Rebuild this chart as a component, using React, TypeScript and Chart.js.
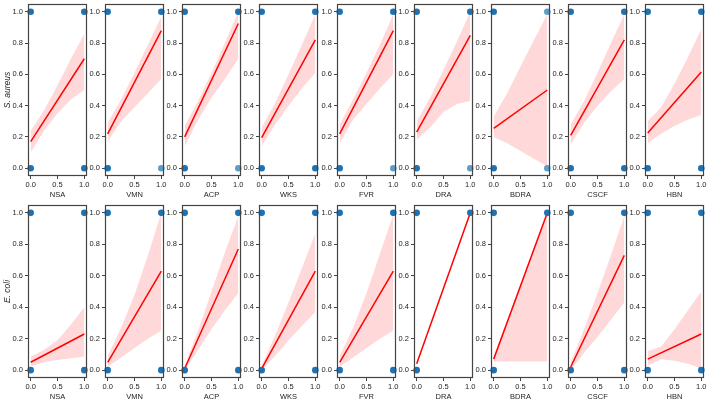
import React, { useEffect, useRef } from 'react';
import { Chart, registerables } from 'chart.js';

Chart.register(...registerables);

// ---- data -------------------------------------------------------------
const PREDICTORS = ['NSA', 'VMN', 'ACP', 'WKS', 'FVR', 'DRA', 'BDRA', 'CSCF', 'HBN'];
const ORGANISMS = ['S. aureus', 'E. coli'];
const X_TICKS = [0, 0.5, 1];
const Y_TICKS = [0, 0.2, 0.4, 0.6, 0.8, 1];
const BAND_X = [0, 0.25, 0.5, 0.75, 1];
const CORNERS = [[0, 0], [0, 1], [1, 0], [1, 1]];

// fitted value at x = 0 and x = 1
const S_AUREUS_FIT = [
  [0.17, 0.7], [0.22, 0.88], [0.2, 0.925], [0.195, 0.82], [0.22, 0.88],
  [0.23, 0.85], [0.255, 0.5], [0.21, 0.82], [0.225, 0.615],
];
// confidence band edges at BAND_X
const S_AUREUS_LOW = [
  [0.1, 0.24, 0.35, 0.44, 0.5],
  [0.17, 0.3, 0.39, 0.48, 0.57],
  [0.14, 0.31, 0.45, 0.57, 0.7],
  [0.14, 0.28, 0.4, 0.51, 0.61],
  [0.16, 0.31, 0.41, 0.51, 0.6],
  [0.18, 0.26, 0.36, 0.41, 0.43],
  [0.2, 0.16, 0.11, 0.06, 0.01],
  [0.15, 0.29, 0.4, 0.49, 0.57],
  [0.16, 0.22, 0.27, 0.31, 0.34],
];
const S_AUREUS_HIGH = [
  [0.24, 0.37, 0.53, 0.7, 0.86],
  [0.29, 0.44, 0.61, 0.79, 0.97],
  [0.27, 0.43, 0.61, 0.8, 1.0],
  [0.26, 0.415, 0.6, 0.79, 0.985],
  [0.28, 0.44, 0.61, 0.79, 0.985],
  [0.3, 0.45, 0.63, 0.81, 1.0],
  [0.33, 0.48, 0.65, 0.82, 0.985],
  [0.28, 0.43, 0.61, 0.8, 0.985],
  [0.3, 0.39, 0.54, 0.71, 0.89],
];
// observations at (0,0), (0,1), (1,0), (1,1): 0 none, 1 single, 2 several
const S_AUREUS_POINTS = [
  [2, 2, 2, 2], [2, 2, 1, 2], [2, 2, 1, 2], [2, 2, 2, 2], [2, 2, 1, 2],
  [2, 2, 1, 2], [2, 2, 1, 1], [2, 2, 2, 2], [2, 2, 2, 2],
];

const E_COLI_FIT = [
  [0.05, 0.23], [0.05, 0.63], [0.01, 0.77], [0.01, 0.63], [0.05, 0.63],
  [0.04, 1.0], [0.07, 1.0], [0.02, 0.73], [0.07, 0.23],
];
const E_COLI_LOW = [
  [0.025, 0.05, 0.065, 0.075, 0.085],
  [0.02, 0.08, 0.14, 0.2, 0.25],
  [0.0, 0.13, 0.26, 0.38, 0.49],
  [0.0, 0.09, 0.19, 0.28, 0.37],
  [0.02, 0.08, 0.14, 0.2, 0.25],
  [0.04, 0.28, 0.52, 0.76, 1.0],
  [0.055, 0.055, 0.055, 0.055, 0.055],
  [0.0, 0.11, 0.21, 0.32, 0.43],
  [0.03, 0.07, 0.06, 0.04, 0.01],
];
const E_COLI_HIGH = [
  [0.085, 0.13, 0.19, 0.29, 0.4],
  [0.09, 0.27, 0.48, 0.73, 1.0],
  [0.03, 0.25, 0.5, 0.75, 0.98],
  [0.03, 0.22, 0.43, 0.65, 0.87],
  [0.09, 0.27, 0.49, 0.74, 0.99],
  [0.04, 0.28, 0.52, 0.76, 1.0],
  [0.07, 0.3, 0.535, 0.77, 1.0],
  [0.05, 0.26, 0.49, 0.73, 0.98],
  [0.12, 0.15, 0.26, 0.38, 0.5],
];
const E_COLI_POINTS = [
  [2, 2, 2, 2], [2, 2, 2, 2], [2, 2, 2, 2], [2, 2, 2, 2], [2, 2, 2, 2],
  [2, 2, 0, 2], [2, 2, 0, 2], [2, 2, 2, 2], [2, 2, 2, 2],
];

const ROWS = [
  { fit: S_AUREUS_FIT, low: S_AUREUS_LOW, high: S_AUREUS_HIGH, points: S_AUREUS_POINTS },
  { fit: E_COLI_FIT, low: E_COLI_LOW, high: E_COLI_HIGH, points: E_COLI_POINTS },
];

// ---- layout & style ---------------------------------------------------
const PANEL_LEFT = [28, 105, 182, 259, 337, 414, 491, 568, 645];
const PANEL_W = 59;
const ROW_TOP = [3, 204];
const ROW_H = [173, 174];
const PAD_TOP = 3;
const PAD_RIGHT = 10;
const X_AXIS_H = 23;
const Y_AXIS_W = 30;
const FIRST_Y_AXIS_W = 28;

const FONT_FAMILY = "'Liberation Sans', Arial, sans-serif";
const TEXT_COLOR = '#1e1e1e';
const FRAME_COLOR = '#444444';
const DOT_DARK = '#1f72b2';
const DOT_LIGHT = 'rgba(31,119,180,0.72)';
const FIT_COLOR = '#ff0000';
const BAND_COLOR = 'rgba(255,0,0,0.15)';

const framePlugin = {
  id: 'panelFrame',
  afterDatasetsDraw(chart: any) {
    const { ctx, chartArea: a } = chart;
    ctx.save();
    ctx.strokeStyle = FRAME_COLOR;
    ctx.lineWidth = 1.2;
    ctx.strokeRect(a.left + 0.5, a.top + 0.5, a.right - a.left - 1, a.bottom - a.top - 1);
    ctx.restore();
  },
};

function Panel({ row, col }: { row: number; col: number }) {
  const ref = useRef<HTMLCanvasElement | null>(null);
  const yw = col === 0 ? FIRST_Y_AXIS_W : Y_AXIS_W;
  const width = yw + PANEL_W + PAD_RIGHT;
  const height = PAD_TOP + ROW_H[row] + X_AXIS_H;
  const left = PANEL_LEFT[col] - yw;
  const top = ROW_TOP[row] - PAD_TOP;

  useEffect(() => {
    const canvas = ref.current;
    if (!canvas) return;
    const r = ROWS[row];
    const fit = r.fit[col];
    const low = r.low[col];
    const high = r.high[col];
    const counts = r.points[col];
    const pts = CORNERS.map(([x, y], i) => ({ x, y, n: counts[i] })).filter((p) => p.n > 0);
    const tickFont = { family: FONT_FAMILY, size: 7.5 };

    const chart = new Chart(canvas, {
      type: 'line',
      data: {
        datasets: [
          {
            type: 'scatter',
            data: pts.map((p) => ({ x: p.x, y: p.y })),
            pointRadius: 3.3,
            pointBorderWidth: 0,
            pointBackgroundColor: pts.map((p) => (p.n > 1 ? DOT_DARK : DOT_LIGHT)),
            showLine: false,
            clip: false,
          },
          {
            data: [{ x: 0, y: fit[0] }, { x: 1, y: fit[1] }],
            borderColor: FIT_COLOR,
            borderWidth: 1.5,
            pointRadius: 0,
            fill: false,
          },
          {
            data: BAND_X.map((x, i) => ({ x, y: high[i] })),
            borderColor: 'transparent',
            borderWidth: 0,
            pointRadius: 0,
            backgroundColor: BAND_COLOR,
            fill: '+1',
          },
          {
            data: BAND_X.map((x, i) => ({ x, y: low[i] })),
            borderColor: 'transparent',
            borderWidth: 0,
            pointRadius: 0,
            fill: false,
          },
        ],
      } as any,
      options: {
        responsive: false,
        animation: false,
        events: [],
        layout: { padding: { top: PAD_TOP, right: PAD_RIGHT, left: 0, bottom: 0 } },
        plugins: { legend: { display: false }, tooltip: { enabled: false } },
        scales: {
          x: {
            type: 'linear',
            min: -0.05,
            max: 1.05,
            afterBuildTicks: (s: any) => {
              s.ticks = X_TICKS.map((v) => ({ value: v }));
            },
            afterFit: (s: any) => {
              s.height = X_AXIS_H;
              s.paddingLeft = 0;
              s.paddingRight = 0;
            },
            grid: { display: true, drawOnChartArea: false, drawTicks: true, tickLength: 3, color: FRAME_COLOR },
            border: { display: false },
            ticks: {
              font: tickFont,
              color: TEXT_COLOR,
              padding: 1,
              maxRotation: 0,
              autoSkip: false,
              callback: (v: any) => Number(v).toFixed(1),
            },
            title: {
              display: true,
              text: PREDICTORS[col],
              font: tickFont,
              color: TEXT_COLOR,
              padding: { top: 0, bottom: 0 },
            },
          },
          y: {
            type: 'linear',
            min: -0.05,
            max: 1.05,
            afterBuildTicks: (s: any) => {
              s.ticks = Y_TICKS.map((v) => ({ value: v }));
            },
            afterFit: (s: any) => {
              s.width = yw;
              s.paddingTop = 0;
              s.paddingBottom = 0;
            },
            grid: { display: true, drawOnChartArea: false, drawTicks: true, tickLength: 3, color: FRAME_COLOR },
            border: { display: false },
            ticks: {
              font: tickFont,
              color: TEXT_COLOR,
              padding: 2,
              autoSkip: false,
              callback: (v: any) => Number(v).toFixed(1),
            },
            title: {
              display: col === 0,
              text: ORGANISMS[row],
              font: { family: FONT_FAMILY, size: 8.5, style: 'italic' },
              color: TEXT_COLOR,
              padding: { top: 3, bottom: 0 },
            },
          },
        },
      } as any,
      plugins: [framePlugin],
    });
    return () => chart.destroy();
  }, [row, col, yw]);

  return (
    <canvas
      ref={ref}
      width={width}
      height={height}
      style={{ position: 'absolute', left, top, width, height }}
    />
  );
}

export default function App() {
  return (
    <div
      style={{
        position: 'fixed',
        left: 0,
        top: 0,
        width: 707,
        height: 403,
        background: '#ffffff',
        overflow: 'hidden',
      }}
    >
      {ROWS.map((_, row) =>
        PREDICTORS.map((name, col) => <Panel key={`${row}-${name}`} row={row} col={col} />)
      )}
    </div>
  );
}
